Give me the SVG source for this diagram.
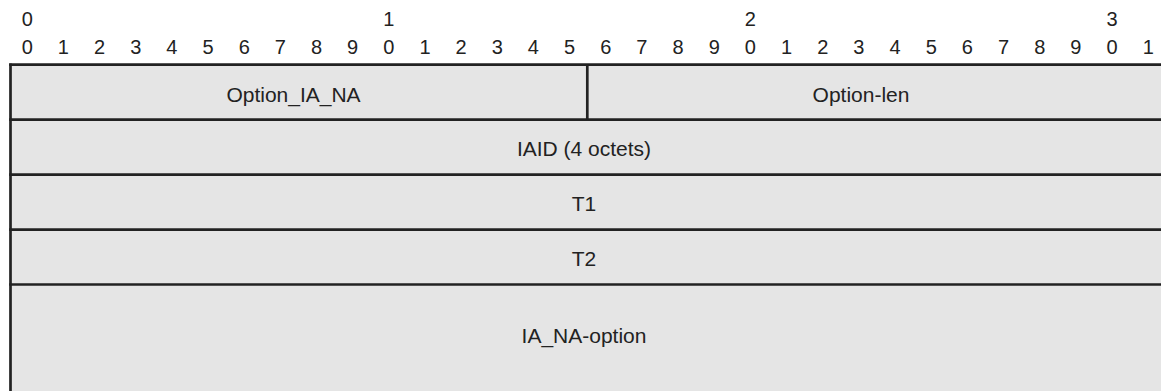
<svg xmlns="http://www.w3.org/2000/svg" width="1161" height="391" viewBox="0 0 1161 391">
<style>
.num{font-family:"Liberation Sans",Arial,sans-serif;font-size:20px;fill:#222;text-anchor:middle}
.lbl{font-family:"Liberation Sans",Arial,sans-serif;font-size:21px;fill:#222;text-anchor:middle}
.cell{fill:#e5e5e5;stroke:none}
.ln{stroke:#222;stroke-width:2.7;fill:none}
</style>
<rect width="1161" height="391" fill="#ffffff"/>
<g id="ruler">
<text class="num" x="27.2" y="25.7">0</text>
<text class="num" x="388.8" y="25.7">1</text>
<text class="num" x="750.4" y="25.7">2</text>
<text class="num" x="1112" y="25.7">3</text>
<text class="num" y="54">
<tspan x="27.2">0</tspan><tspan x="63.4">1</tspan><tspan x="99.5">2</tspan><tspan x="135.7">3</tspan><tspan x="171.8">4</tspan><tspan x="208">5</tspan><tspan x="244.2">6</tspan><tspan x="280.3">7</tspan><tspan x="316.5">8</tspan><tspan x="352.6">9</tspan><tspan x="388.8">0</tspan><tspan x="425">1</tspan><tspan x="461.1">2</tspan><tspan x="497.3">3</tspan><tspan x="533.4">4</tspan><tspan x="569.6">5</tspan><tspan x="605.8">6</tspan><tspan x="641.9">7</tspan><tspan x="678.1">8</tspan><tspan x="714.2">9</tspan><tspan x="750.4">0</tspan><tspan x="786.6">1</tspan><tspan x="822.7">2</tspan><tspan x="858.9">3</tspan><tspan x="895">4</tspan><tspan x="931.2">5</tspan><tspan x="967.4">6</tspan><tspan x="1003.5">7</tspan><tspan x="1039.7">8</tspan><tspan x="1075.8">9</tspan><tspan x="1112">0</tspan><tspan x="1148.2">1</tspan>
</text>
</g>
<g id="field-option-ia-na">
<rect class="cell" x="10.5" y="64.7" width="576.8" height="55"/>
<text class="lbl" x="293.5" y="101.7">Option_IA_NA</text>
</g>
<g id="field-option-len">
<rect class="cell" x="587.3" y="64.7" width="575" height="55"/>
<text class="lbl" x="861" y="101.7">Option-len</text>
</g>
<g id="field-iaid">
<rect class="cell" x="10.5" y="119.7" width="1152" height="55"/>
<text class="lbl" x="584" y="155.5">IAID (4 octets)</text>
</g>
<g id="field-t1">
<rect class="cell" x="10.5" y="174.7" width="1152" height="55"/>
<text class="lbl" x="584" y="210.5">T1</text>
</g>
<g id="field-t2">
<rect class="cell" x="10.5" y="229.7" width="1152" height="55"/>
<text class="lbl" x="584" y="265.5">T2</text>
</g>
<g id="field-ia-na-option">
<rect class="cell" x="10.5" y="284.5" width="1152" height="110"/>
<text class="lbl" x="584" y="343.3">IA_NA-option</text>
</g>
<g id="lines">
<line class="ln" x1="9.2" y1="64.7" x2="1163" y2="64.7"/>
<line class="ln" x1="9.2" y1="119.7" x2="1163" y2="119.7"/>
<line class="ln" x1="9.2" y1="174.7" x2="1163" y2="174.7"/>
<line class="ln" x1="9.2" y1="229.7" x2="1163" y2="229.7"/>
<line class="ln" x1="9.2" y1="284.5" x2="1163" y2="284.5"/>
<line class="ln" x1="10.5" y1="63.4" x2="10.5" y2="395"/>
<line class="ln" x1="587.3" y1="64.7" x2="587.3" y2="119.7"/>
</g>
</svg>
